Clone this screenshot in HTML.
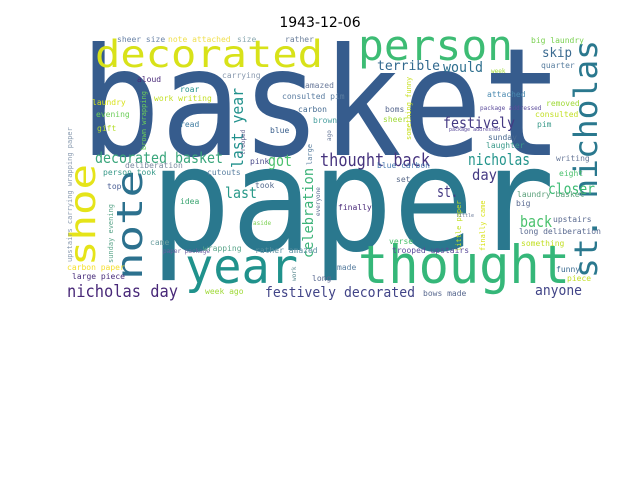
<!DOCTYPE html>
<html><head><meta charset="utf-8"><style>
html,body{margin:0;padding:0;background:#fff;}
svg{display:block;}
text{font-family:"DejaVu Sans Mono","Liberation Mono",monospace;}
</style></head><body>
<svg id="chart" width="640" height="480" viewBox="0 0 640 480" xmlns="http://www.w3.org/2000/svg">
<text x="320" y="27" text-anchor="middle" font-size="14" style="font-family:'DejaVu Sans','Liberation Sans',sans-serif">1943-12-06</text>
<g id="cloud"></g>
</svg>
<script>
// word, x, y(baseline), font size, color, rotated(1=vertical), fitted length (0 = natural)
const words = ["basket","paper","decorated","person","thought","year","shoe","note","st. nicholas",
"decorated basket","got","thought back","last","last year","celebration","nicholas day","festively decorated",
"festively","terrible","would","skip","nicholas","day","st.","back","closer","anyone",
"sheer size","note attached","size","rather","aloud","carrying","roar","work writing","laundry","evening","gift","read",
"amazed","consulted pim","carbon","brown","blue","pink","deliberation","person took","cutouts","top","took","idea","finally",
"aside","came","paper package","wrapping","rather amazed","carbon paper","large piece","made","long","week ago",
"upstairs carrying wrapping paper","brown wrapping","sunday evening","trooped","large","ago","everyone","work",
"boms","sheer","something funny","attached","week","quarter","big laundry","package addressed","package addressed",
"removed","consulted","pim","sunday","laughter","writing","eight","blue carbon","set","laundry basket","big",
"upstairs","long deliberation","something","little paper","finally came","verse","trooped upstairs","little","funny","piece","bows made"];
const xs = [80,150,95,358,358,185,95,142,597,
95,268,320,225,243,313,67,265,
443,377,443,542,468,472,437,520,548,535,
117,168,237,285,137,222,180,154,92,96,97,180,
305,282,298,313,270,250,125,103,207,107,255,180,338,
253,150,163,203,255,67,72,337,312,205,
72,146,113,245,312,331,320,296,
385,383,411,487,491,541,531,480,449,
546,535,537,488,486,556,559,377,396,517,516,
553,519,521,461,485,389,392,456,556,567,423];
const ys = [155,250,67,60,283,283,266,280,278,
163,166,166,198,168,258,297,297,
128,70,72,57,165,180,197,227,194,295,
42,42,42,42,82,78,92,101,105,117,131,127,
88,99,112,123,133,164,168,175,175,189,188,204,210,
225,245,253,251,253,270,279,270,281,294,
262,150,263,155,165,141,216,281,
112,122,140,97,73,68,43,110,131,
106,117,127,140,148,161,176,168,182,197,206,
222,234,246,251,251,244,253,217,272,281,296];
const sizes = [150,145,37,42,53,48,36,36,32,
15,16,18,15,16,14,17,14,
15,13,14,13,16,15,16,16,15,14,
8,8,8,8,8,8,8,8,8,8,8,8,
8,8,8,8,8,8,8,8,8,8,8,8,8,
6,8,6,8,8,8,8,8,8,8,
7,7,7,6,7,6,6,6,
8,8,7,8,6,8,8,6,5,
8,8,8,8,8,8,8,8,8,8,8,
8,8,8,7,7,8,8,5,8,8,8];
const colors = ["#365c8d","#2a788e","#d8e219","#3dbc74","#35b779","#20928c","#e5e419","#2c718e","#2a788e",
"#3aa67c","#4ac16d","#46337e","#2a9a8a","#21918c","#3eb47a","#482878","#414487",
"#443983","#31688e","#2e6f8e","#3a6a90","#22948b","#443983","#443983","#4ac16d","#3dbc74","#414487",
"#6b84a8","#f0e050","#8aa8b0","#6b7f9a","#482878","#8a9bb0","#21918c","#c2df23","#d8e219","#6cce59","#b5de2b","#3e7ba0",
"#6b7b9b","#5a7ca0","#4a6f94","#4aa0a0","#3a5f8c","#4a4a8a","#7b8aa0","#3a9a8a","#5a7fa0","#4b5f95","#556b8f","#3aa470","#482878",
"#7ad151","#6b9fa0","#6b5fa0","#5aa58a","#5a8fa0","#f5e030","#472c7a","#5a7fa0","#5a6a90","#a0da39",
"#8a9bb0","#6cce59","#5aa58a","#5a5a8a","#5a7fa0","#6a7a9a","#5a6a90","#5a8a90",
"#5a6a90","#a0da39","#c8e020","#4a8ab0","#a0da39","#5a7fa0","#7ad151","#5a4a9a","#5a4a9a",
"#a0da39","#c2df23","#3a9a8a","#4a6a90","#3a9a8a","#6a7a9a","#4ac16d","#4a7ab0","#5a6a8a","#5aa07a","#5a6a90",
"#5a6a90","#5a6a90","#c2df23","#c2df23","#d8e219","#4ac16d","#5a4a9a","#6a7a9a","#3a6a90","#c2df23","#5a6a90"];
const vertical = [0,0,0,0,0,0,1,1,1, 0,0,0,0,1,1,0,0, 0,0,0,0,0,0,0,0,0,0,
0,0,0,0,0,0,0,0,0,0,0,0, 0,0,0,0,0,0,0,0,0,0,0,0,0, 0,0,0,0,0,0,0,0,0,0,
1,1,1,1,1,1,1,1, 0,0,1,0,0,0,0,0,0, 0,0,0,0,0,0,0,0,0,0,0, 0,0,0,1,1,0,0,0,0,0,0];
const fitLen = [483,405,228,155,212,113,102,110,238, 128,24,110,32,80,90,111,150, 72,63,40,30,62,25,21,32,47,47];

const g = document.getElementById('cloud');
const NS = 'http://www.w3.org/2000/svg';
for (let i = 0; i < words.length; i++) {
  const t = document.createElementNS(NS, 'text');
  
  
  t.setAttribute('x', xs[i]);
  t.setAttribute('y', ys[i]);
  t.setAttribute('font-size', sizes[i]);
  t.setAttribute('fill', colors[i]);
  if (fitLen[i]) {
    t.setAttribute('textLength', fitLen[i]);
    t.setAttribute('lengthAdjust', 'spacingAndGlyphs');
  }
  if (vertical[i]) t.setAttribute('transform', 'rotate(-90 ' + xs[i] + ' ' + ys[i] + ')');
  t.textContent = words[i];
  g.appendChild(t);
}
</script>
</body></html>
